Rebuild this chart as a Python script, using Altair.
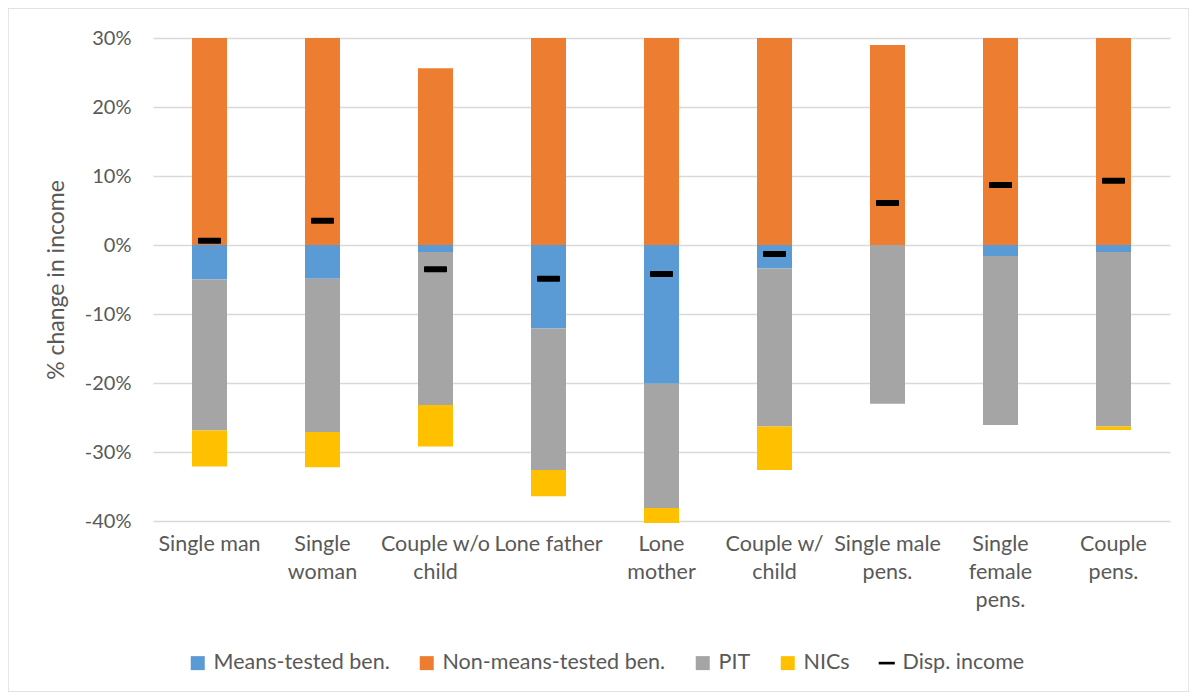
import altair as alt
import pandas as pd

categories = ["Single man", "Single|woman", "Couple w/o|child", "Lone father", "Lone|mother",
              "Couple w/|child", "Single male|pens.", "Single|female|pens.", "Couple|pens."]
means_tested = [-5.0, -4.9, -1.0, -12.1, -20.1, -3.4, 0.0, -1.6, -1.0]
non_means_tested = [32.7, 35.7, 25.6, 31.5, 36.1, 31.3, 29.0, 34.8, 36.1]
pit = [-21.9, -22.2, -22.2, -20.5, -18.0, -22.9, -23.0, -24.5, -25.3]
nics = [-5.2, -5.1, -6.0, -3.8, -2.2, -6.3, 0.0, 0.0, -0.5]
disp_income = [0.6, 3.5, -3.5, -4.9, -4.2, -1.3, 6.1, 8.7, 9.3]

series_names = ["Means-tested ben.", "Non-means-tested ben.", "PIT", "NICs", "Disp. income"]
series_colors = ["#5B9BD5", "#ED7D31", "#A5A5A5", "#FFC000", "#000000"]

rows = []
for i, c in enumerate(categories):
    for k, (name, vals) in enumerate(zip(series_names[:4], [means_tested, non_means_tested, pit, nics])):
        if vals[i] != 0:
            rows.append({"cat": c, "series": name, "value": vals[i], "ord": k})
bars_df = pd.DataFrame(rows)
pos_df = bars_df[bars_df["value"] > 0]
neg_df = bars_df[bars_df["value"] < 0]
disp_df = pd.DataFrame({"cat": categories, "series": "Disp. income", "value": disp_income})

font = "Lato"
txt = "#595959"

color_scale = alt.Scale(domain=series_names, range=series_colors)

x_enc = alt.X("cat:N", sort=categories, title=None,
              scale=alt.Scale(paddingInner=0, paddingOuter=0),
              axis=alt.Axis(labelExpr="split(datum.label, '|')", labelAngle=0, labelFontSize=21.5,
                            labelLineHeight=28, labelPadding=12, labelBaseline="top",
                            labelColor=txt, labelFont=font, domain=False, ticks=False,
                            labelLimit=250))

y_scale = alt.Scale(domain=[-40, 30], nice=False)
y_axis = alt.Axis(values=[-40, -30, -20, -10, 0, 10, 20, 30],
                  labelExpr="datum.value + '%'", labelFontSize=20, labelColor=txt,
                  labelFont=font, labelPadding=22, domain=False, ticks=False,
                  gridColor="#D9D9D9", gridWidth=1.3,
                  titleFontSize=23, titleFontWeight="normal", titleColor=txt,
                  titleFont=font, titlePadding=16)

legend = alt.Legend(title=None, orient="none", direction="horizontal", legendX=34, legendY=614,
                    labelFontSize=21.5, labelColor=txt, labelFont=font, symbolSize=196,
                    columnPadding=26, labelOffset=5, labelLimit=400,
                    symbolStrokeWidth=0, symbolOpacity=1,
                    symbolType=alt.ExprRef(expr="datum.label == 'Disp. income' ? 'M-1.15,-0.19H1.15V0.19H-1.15Z' : 'square'"))

neg_bars = alt.Chart(neg_df).mark_bar(size=35, clip=False, opacity=1).encode(
    x=x_enc,
    y=alt.Y("value:Q", stack="zero", scale=y_scale, title="% change in income", axis=y_axis),
    color=alt.Color("series:N", scale=color_scale, legend=legend),
    order=alt.Order("ord:Q"),
)

pos_bars = alt.Chart(pos_df).mark_bar(size=35, clip=True, opacity=1).encode(
    x=alt.X("cat:N", sort=categories),
    y=alt.Y("value:Q", stack="zero", scale=y_scale),
    color=alt.Color("series:N", scale=color_scale, legend=legend),
    order=alt.Order("ord:Q"),
)

ticks = alt.Chart(disp_df).mark_tick(size=23, thickness=6, cornerRadius=1, opacity=1).encode(
    x=alt.X("cat:N", sort=categories),
    y=alt.Y("value:Q", scale=y_scale),
    color=alt.Color("series:N", scale=color_scale, legend=legend),
)

frame = alt.Chart(pd.DataFrame({"a": [0]})).mark_rect(fill=None, stroke="#D9D9D9", strokeWidth=1.3, clip=False).encode(
    x=alt.value(-145), x2=alt.value(1036), y=alt.value(-30), y2=alt.value(654)
)

chart = alt.layer(frame, neg_bars, pos_bars, ticks).properties(
    width=1017, height=483,
    autosize=alt.AutoSizeParams(type="none"),
    padding={"left": 145, "top": 30, "right": 19, "bottom": 171},
).configure_view(stroke=None)

chart.save("out.html", embed_options={"renderer": "svg", "actions": False})
